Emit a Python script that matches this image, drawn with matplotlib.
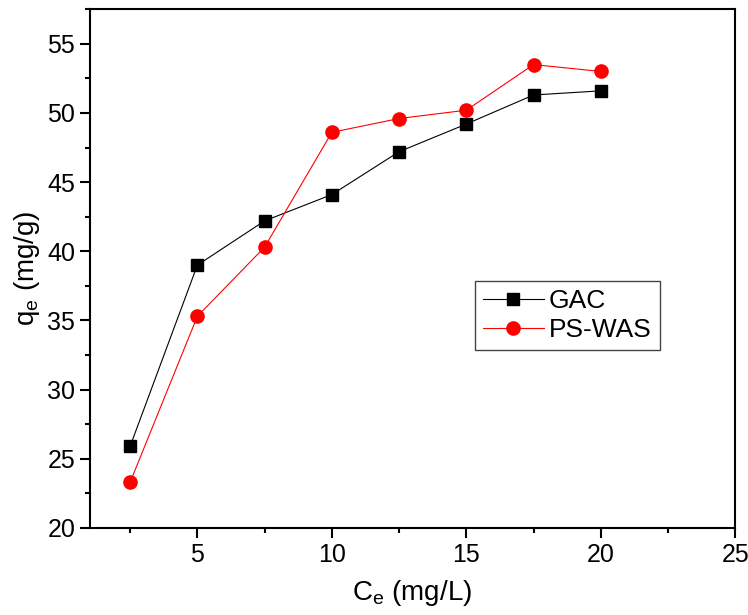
import matplotlib
matplotlib.use("Agg")
import matplotlib.pyplot as plt
from matplotlib.ticker import MultipleLocator

plt.rcParams["font.family"] = ["Liberation Sans", "DejaVu Sans"]
plt.rcParams["mathtext.fontset"] = "custom"
plt.rcParams["mathtext.rm"] = "Liberation Sans"

# 数据
ce = [2.5, 5, 7.5, 10, 12.5, 15, 17.5, 20]
qe_gac = [25.9, 39.0, 42.2, 44.1, 47.2, 49.2, 51.3, 51.6]
qe_pswas = [23.3, 35.3, 40.3, 48.6, 49.6, 50.2, 53.5, 53.0]

fig = plt.figure(figsize=(7.48, 6.15), dpi=100)
ax = fig.add_axes([0.120, 0.1415, 0.863, 0.8435])

ax.plot(ce, qe_gac, color="black", lw=0.8, marker="s", ms=8, label="GAC")
ax.plot(ce, qe_pswas, color="red", lw=0.8, marker="o", ms=9.5,
        markeredgecolor="red", label="PS-WAS")

ax.set_xlim(1, 25)
ax.set_ylim(20, 57.5)
ax.xaxis.set_major_locator(MultipleLocator(5))
ax.xaxis.set_minor_locator(MultipleLocator(2.5))
ax.yaxis.set_major_locator(MultipleLocator(5))
ax.yaxis.set_minor_locator(MultipleLocator(2.5))

for s in ax.spines.values():
    s.set_linewidth(1.5)
ax.tick_params(which="major", direction="out", length=7, width=1.5, labelsize=18)
ax.tick_params(which="minor", direction="out", length=3.5, width=1.5)

ax.set_xlabel("C$_\\mathregular{e}$ (mg/L)", fontsize=20, labelpad=8)
ax.set_ylabel("q$_\\mathregular{e}$ (mg/g)", fontsize=20, labelpad=4)

leg = ax.legend(loc="upper left", bbox_to_anchor=(0.597, 0.476), borderaxespad=0,
                fontsize=19, fancybox=False, edgecolor="#444444", framealpha=1,
                handlelength=2.3, handletextpad=0.2, borderpad=0.3,
                labelspacing=0.2)
leg.get_frame().set_linewidth(1.0)

fig.savefig("out.png", dpi=100)
